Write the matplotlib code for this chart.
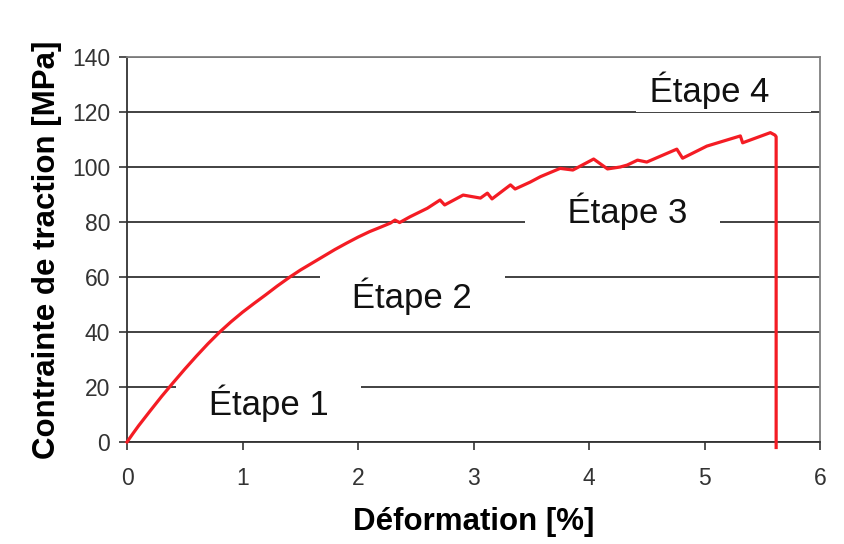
import numpy as np
import matplotlib.pyplot as plt

plt.rcParams['font.family'] = ['Liberation Sans', 'DejaVu Sans']

# tensile test curve
strain = [0, 0.05, 0.1, 0.2, 0.3, 0.4, 0.5, 0.6, 0.7, 0.8, 0.9, 1.0, 1.1, 1.2, 1.3, 1.41,
          1.5, 1.6, 1.7, 1.8, 1.9, 2.0, 2.1, 2.2, 2.28, 2.32, 2.36, 2.45, 2.6, 2.71,
          2.75, 2.91, 3.06, 3.12, 3.16, 3.32, 3.36, 3.49, 3.58, 3.75, 3.86, 4.04, 4.16,
          4.27, 4.33, 4.42, 4.50, 4.76, 4.81, 5.02, 5.31, 5.33, 5.57, 5.61, 5.62, 5.62]
stress = [0, 3, 5.9, 11.3, 16.6, 21.6, 26.5, 31.2, 35.7, 39.9, 43.7, 47.2, 50.4, 53.5, 56.7, 60,
          62.5, 65, 67.5, 70, 72.3, 74.5, 76.5, 78.2, 79.6, 80.7, 79.8, 81.9, 85, 88,
          86.2, 89.8, 88.7, 90.5, 88.4, 93.5, 92, 94.5, 96.5, 99.5, 98.9, 102.9, 99.3,
          100, 100.7, 102.5, 101.8, 106.5, 103.2, 107.6, 111.3, 108.8, 112.5, 111.6, 111, -2]

stage_labels = ['Étape 1', 'Étape 2', 'Étape 3', 'Étape 4']
stage_x = [1.225, 2.47, 4.29, 5.165]
stage_y = [14, 53, 84, 128]
# spaces widen the white box that cuts the grid lines
stage_pad = [('   ', '   '), ('   ', '   '), ('    ', '   '), (' ', '    ')]

fig = plt.figure(figsize=(8.44, 5.44), dpi=100)
ax = fig.add_axes([0.1505, 0.1875, 0.8211, 0.7077])

ax.set_xlim(0, 6)
ax.set_ylim(0, 140)
ax.set_xticks(range(0, 7))
ax.set_yticks(range(0, 141, 20))

ax.yaxis.grid(True, color='#333333', lw=1.3, zorder=1)
ax.set_axisbelow(True)

ax.plot(strain, stress, color='#f41c24', lw=2.3, zorder=4, clip_on=False)

for lab, x, y, (l, r) in zip(stage_labels, stage_x, stage_y, stage_pad):
    ax.text(x, y, l + lab + r, fontsize=25, ha='center', va='center', color='#111111',
            zorder=3, bbox=dict(boxstyle='square,pad=0.1', fc='white', ec='none'))

for s in ['left', 'bottom']:
    ax.spines[s].set_color('#333333')
    ax.spines[s].set_linewidth(1.3)
for s in ['top', 'right']:
    ax.spines[s].set_color('#808080')
    ax.spines[s].set_linewidth(1.3)

ax.tick_params(direction='out', length=6, width=1.2, color='#333333',
               labelsize=16.5, labelcolor='#333333')
ax.tick_params(axis='x', pad=12)
ax.tick_params(axis='y', pad=6)

ax.set_xlabel('Déformation [%]', fontsize=22.5, fontweight='bold', labelpad=12)
ax.set_ylabel('Contrainte de traction [MPa]', fontsize=22.5, fontweight='bold', labelpad=7)

fig.savefig('out.png', dpi=100, facecolor='white')
